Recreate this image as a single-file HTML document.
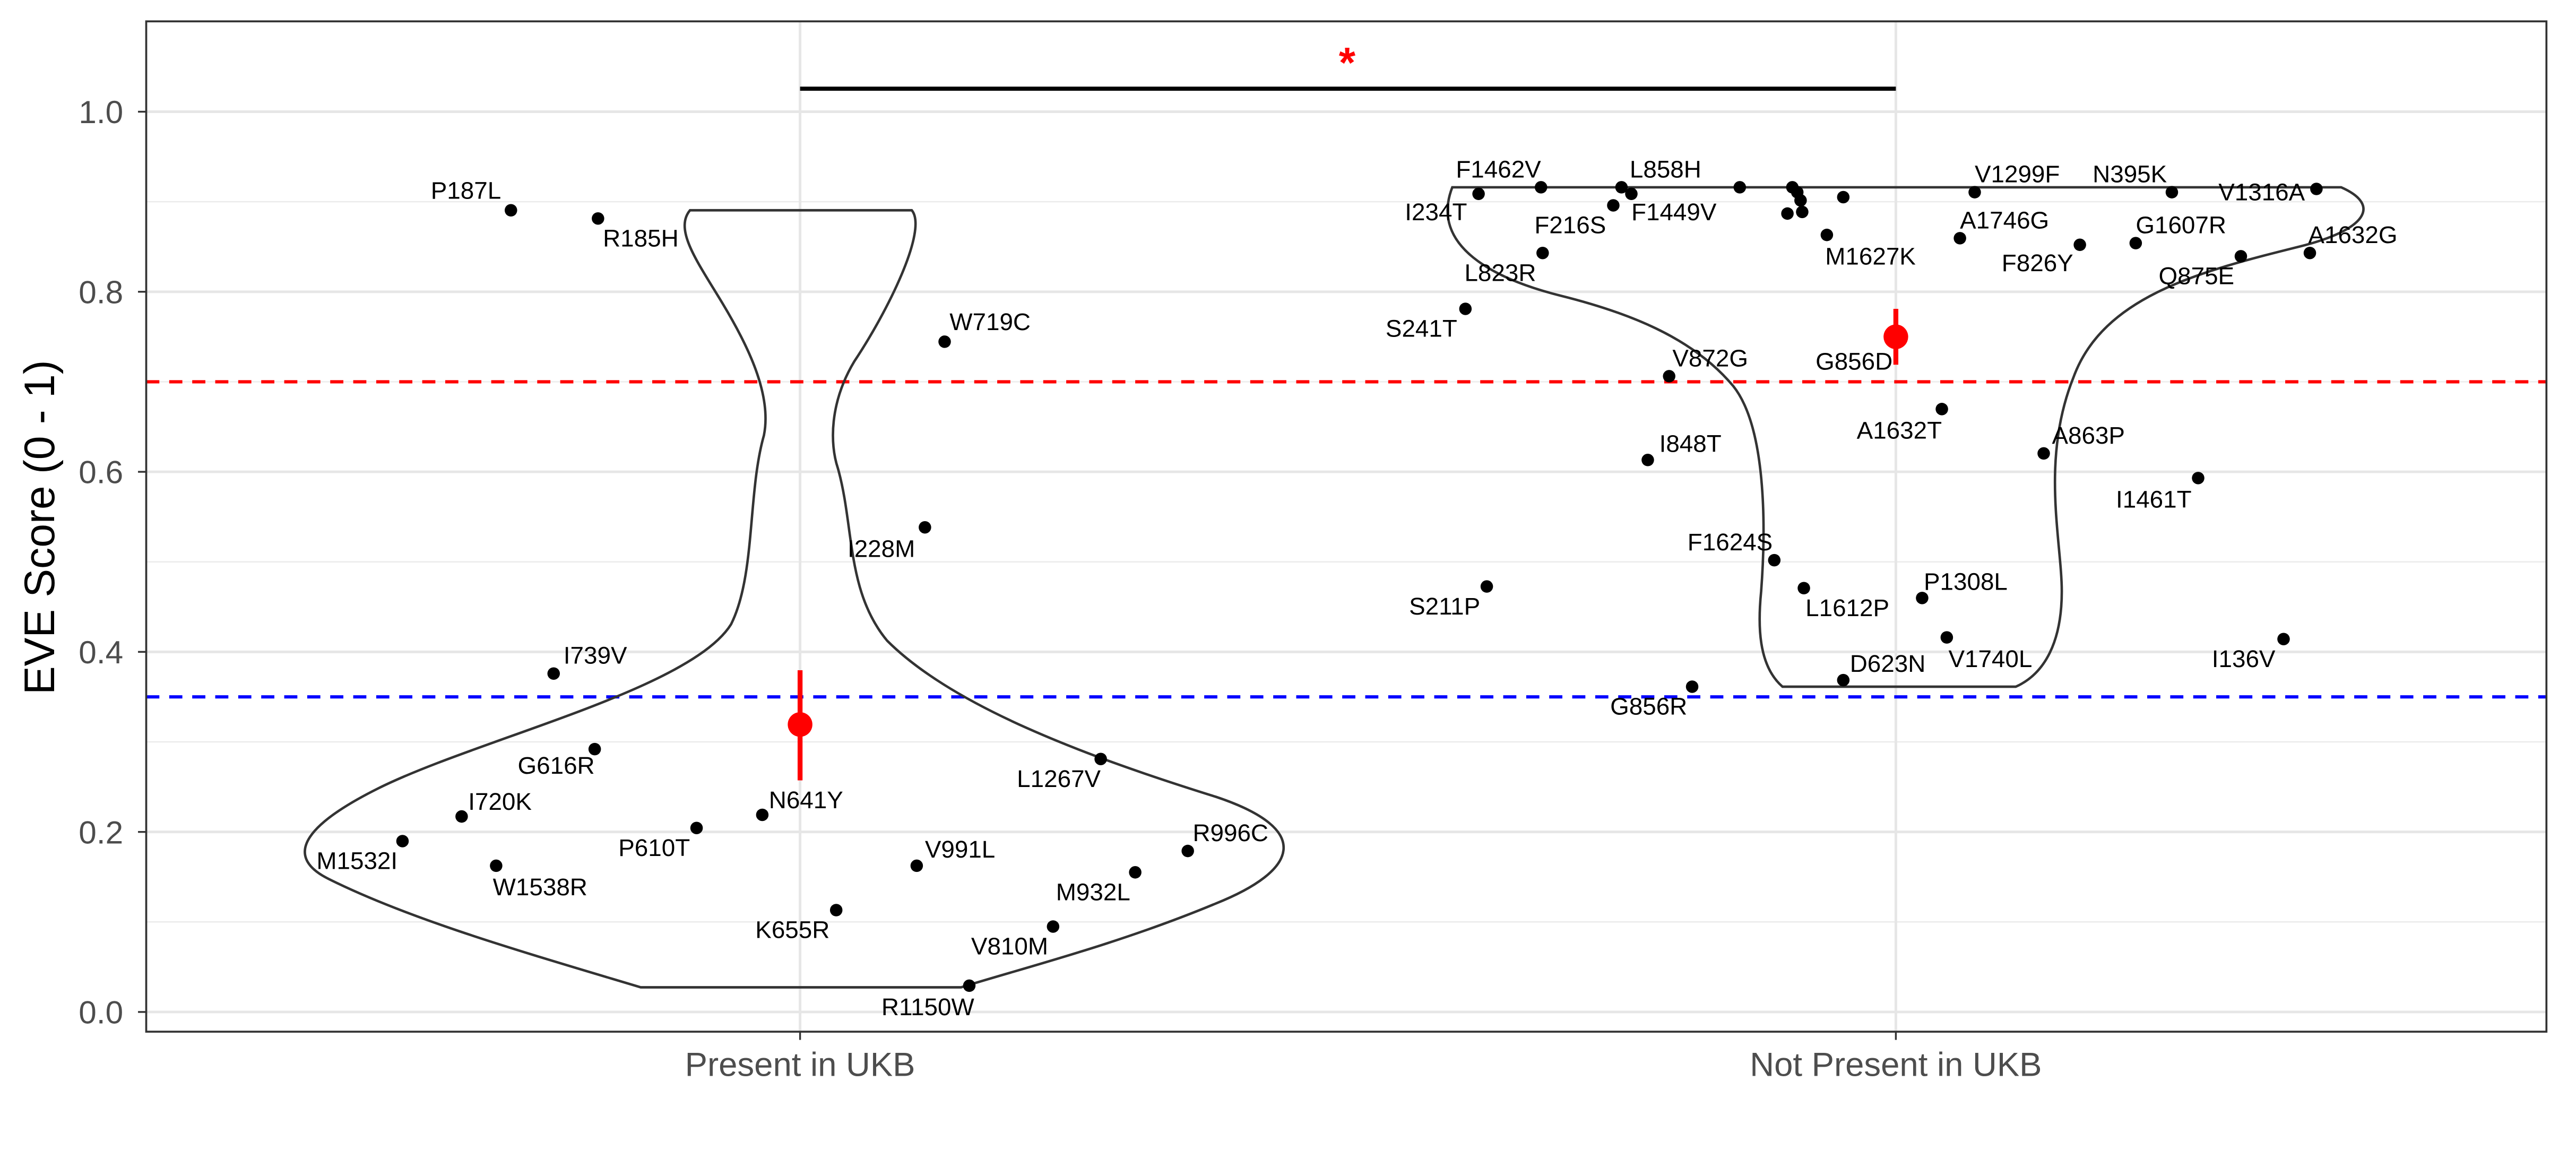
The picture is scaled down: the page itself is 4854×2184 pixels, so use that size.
<!DOCTYPE html>
<html><head><meta charset="utf-8"><style>html,body{margin:0;padding:0;background:#fff}svg{display:block}</style></head>
<body>
<svg width="4854" height="2184" viewBox="0 0 1568 705.5" preserveAspectRatio="none" xmlns="http://www.w3.org/2000/svg" font-family="Liberation Sans, sans-serif">
<rect x="0" y="0" width="1568" height="706" fill="#fff"/>
<!-- grid -->
<g stroke="#ebebeb" stroke-width="0.8">
<line x1="89" x2="1550" y1="561.2" y2="561.2"/><line x1="89" x2="1550" y1="451.6" y2="451.6"/><line x1="89" x2="1550" y1="342" y2="342"/><line x1="89" x2="1550" y1="232.4" y2="232.4"/><line x1="89" x2="1550" y1="122.8" y2="122.8"/>
</g>
<g stroke="#e6e6e6" stroke-width="1.6">
<line x1="89" x2="1550" y1="616" y2="616"/><line x1="89" x2="1550" y1="506.4" y2="506.4"/><line x1="89" x2="1550" y1="396.8" y2="396.8"/><line x1="89" x2="1550" y1="287.2" y2="287.2"/><line x1="89" x2="1550" y1="177.6" y2="177.6"/><line x1="89" x2="1550" y1="68" y2="68"/>
<line x1="487" x2="487" y1="13" y2="628"/><line x1="1154" x2="1154" y1="13" y2="628"/>
</g>
<!-- threshold lines -->
<line x1="89" x2="1550" y1="232.4" y2="232.4" stroke="#f00" stroke-width="2" stroke-dasharray="8,6"/>
<line x1="89" x2="1550" y1="424.2" y2="424.2" stroke="#00f" stroke-width="2" stroke-dasharray="8,6"/>
<!-- violins -->
<g fill="none" stroke="#333" stroke-width="1.5">
<path d="M420,128 L555,128 C565,140 540,190 520,220 C505,245 505,270 510,285 C520,320 515,360 540,390 C580,430 660,460 740,485 C800,505 790,530 740,550 C680,575 620,590 585,601 L390,601 C320,580 250,560 200,535 C170,520 190,500 230,480 C290,450 420,420 445,380 C460,350 455,300 465,265 C470,240 455,210 440,185 C425,160 410,140 420,128 Z"/>
<path d="M884,114 L1425,114 C1450,125 1440,140 1400,150 C1340,165 1280,180 1262,230 C1242,280 1255,330 1255,360 C1255,390 1245,410 1227,418 L1085,418 C1070,405 1070,380 1072,360 C1075,320 1075,260 1055,235 C1030,205 990,190 950,180 C910,170 870,150 884,114 Z"/>
</g>
<!-- significance -->
<line x1="487" x2="1154" y1="54" y2="54" stroke="#000" stroke-width="2.5"/>
<text x="820" y="47" font-size="26" fill="#f00" text-anchor="middle" font-weight="bold">*</text>
<!-- points -->
<g fill="#000">
<circle cx="311" cy="128" r="3.8"/><circle cx="364" cy="133" r="3.8"/><circle cx="575" cy="208" r="3.8"/><circle cx="563" cy="321" r="3.8"/><circle cx="337" cy="410" r="3.8"/><circle cx="362" cy="456" r="3.8"/><circle cx="281" cy="497" r="3.8"/><circle cx="245" cy="512" r="3.8"/><circle cx="302" cy="527" r="3.8"/><circle cx="424" cy="504" r="3.8"/><circle cx="464" cy="496" r="3.8"/><circle cx="558" cy="527" r="3.8"/><circle cx="509" cy="554" r="3.8"/><circle cx="670" cy="462" r="3.8"/><circle cx="723" cy="518" r="3.8"/><circle cx="691" cy="531" r="3.8"/><circle cx="641" cy="564" r="3.8"/><circle cx="590" cy="600" r="3.8"/>
<circle cx="938" cy="114" r="3.8"/><circle cx="900" cy="118" r="3.8"/><circle cx="987" cy="114" r="3.8"/><circle cx="993" cy="118" r="3.8"/><circle cx="982" cy="125" r="3.8"/><circle cx="1059" cy="114" r="3.8"/><circle cx="939" cy="154" r="3.8"/><circle cx="892" cy="188" r="3.8"/><circle cx="1091" cy="114" r="3.8"/><circle cx="1094" cy="117" r="3.8"/><circle cx="1096" cy="122" r="3.8"/><circle cx="1088" cy="130" r="3.8"/><circle cx="1097" cy="129" r="3.8"/><circle cx="1122" cy="120" r="3.8"/><circle cx="1112" cy="143" r="3.8"/><circle cx="1202" cy="117" r="3.8"/><circle cx="1322" cy="117" r="3.8"/><circle cx="1410" cy="115" r="3.8"/><circle cx="1193" cy="145" r="3.8"/><circle cx="1300" cy="148" r="3.8"/><circle cx="1266" cy="149" r="3.8"/><circle cx="1364" cy="156" r="3.8"/><circle cx="1406" cy="154" r="3.8"/><circle cx="1016" cy="229" r="3.8"/><circle cx="1182" cy="249" r="3.8"/><circle cx="1244" cy="276" r="3.8"/><circle cx="1338" cy="291" r="3.8"/><circle cx="1003" cy="280" r="3.8"/><circle cx="1080" cy="341" r="3.8"/><circle cx="1098" cy="358" r="3.8"/><circle cx="1170" cy="364" r="3.8"/><circle cx="905" cy="357" r="3.8"/><circle cx="1185" cy="388" r="3.8"/><circle cx="1122" cy="414" r="3.8"/><circle cx="1030" cy="418" r="3.8"/><circle cx="1390" cy="389" r="3.8"/>
</g>
<!-- labels -->
<g font-size="14.8" fill="#000">
<text x="305" y="121" text-anchor="end">P187L</text><text x="367" y="150">R185H</text><text x="578" y="201">W719C</text><text x="557" y="339" text-anchor="end">I228M</text><text x="343" y="404">I739V</text><text x="362" y="471" text-anchor="end">G616R</text><text x="285" y="493">I720K</text><text x="242" y="529" text-anchor="end">M1532I</text><text x="300" y="545">W1538R</text><text x="420" y="521" text-anchor="end">P610T</text><text x="468" y="492">N641Y</text><text x="563" y="522">V991L</text><text x="505" y="571" text-anchor="end">K655R</text><text x="670" y="479" text-anchor="end">L1267V</text><text x="726" y="512">R996C</text><text x="688" y="548" text-anchor="end">M932L</text><text x="638" y="581" text-anchor="end">V810M</text><text x="593" y="618" text-anchor="end">R1150W</text>
<text x="938" y="108" text-anchor="end">F1462V</text><text x="893" y="134" text-anchor="end">I234T</text><text x="992" y="108">L858H</text><text x="993" y="134">F1449V</text><text x="934" y="142">F216S</text><text x="935" y="171" text-anchor="end">L823R</text><text x="887" y="205" text-anchor="end">S241T</text><text x="1111" y="161">M1627K</text><text x="1202" y="111">V1299F</text><text x="1319" y="111" text-anchor="end">N395K</text><text x="1403" y="122" text-anchor="end">V1316A</text><text x="1193" y="139">A1746G</text><text x="1300" y="142">G1607R</text><text x="1262" y="165" text-anchor="end">F826Y</text><text x="1360" y="173" text-anchor="end">Q875E</text><text x="1405" y="148">A1632G</text><text x="1018" y="223">V872G</text><text x="1152" y="225" text-anchor="end">G856D</text><text x="1182" y="267" text-anchor="end">A1632T</text><text x="1249" y="270">A863P</text><text x="1334" y="309" text-anchor="end">I1461T</text><text x="1010" y="275">I848T</text><text x="1079" y="335" text-anchor="end">F1624S</text><text x="1099" y="375">L1612P</text><text x="1171" y="359">P1308L</text><text x="901" y="374" text-anchor="end">S211P</text><text x="1186" y="406">V1740L</text><text x="1126" y="409">D623N</text><text x="1027" y="435" text-anchor="end">G856R</text><text x="1385" y="406" text-anchor="end">I136V</text>
</g>
<!-- means -->
<line x1="487" x2="487" y1="408" y2="475" stroke="#f00" stroke-width="3"/><circle cx="487" cy="441" r="7.5" fill="#f00"/>
<line x1="1154" x2="1154" y1="188" y2="222" stroke="#f00" stroke-width="3"/><circle cx="1154" cy="205" r="7.5" fill="#f00"/>
<!-- panel -->
<rect x="89" y="13" width="1461" height="615" fill="none" stroke="#333" stroke-width="1.2"/>
<!-- axes ticks -->
<g stroke="#333" stroke-width="1.1">
<line x1="84" x2="89" y1="616" y2="616"/><line x1="84" x2="89" y1="506.4" y2="506.4"/><line x1="84" x2="89" y1="396.8" y2="396.8"/><line x1="84" x2="89" y1="287.2" y2="287.2"/><line x1="84" x2="89" y1="177.6" y2="177.6"/><line x1="84" x2="89" y1="68" y2="68"/>
<line x1="487" x2="487" y1="628" y2="633"/><line x1="1154" x2="1154" y1="628" y2="633"/>
</g>
<g font-size="19.5" fill="#4d4d4d" text-anchor="end">
<text x="75" y="623">0.0</text><text x="75" y="513.4">0.2</text><text x="75" y="403.8">0.4</text><text x="75" y="294.2">0.6</text><text x="75" y="184.6">0.8</text><text x="75" y="75">1.0</text>
</g>
<g font-size="20.5" fill="#4d4d4d" text-anchor="middle">
<text x="487" y="655">Present in UKB</text><text x="1154" y="655">Not Present in UKB</text>
</g>
<text transform="translate(33,321) rotate(-90)" font-size="26" fill="#000" text-anchor="middle">EVE Score (0 - 1)</text>
</svg>
</body></html>
